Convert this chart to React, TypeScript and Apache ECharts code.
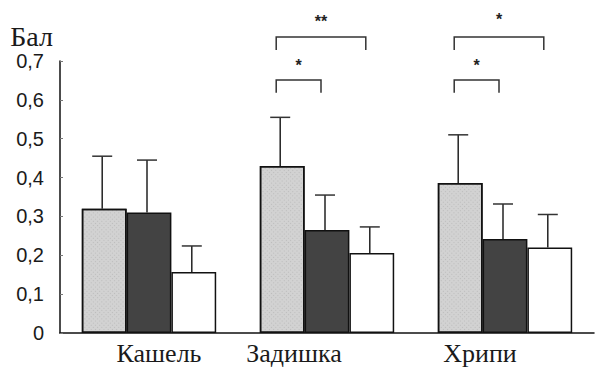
import React, { useEffect, useRef } from "react";
import * as echarts from "echarts";

const categories = ["Кашель", "Задишка", "Хрипи"];
const seriesLight = [0.32, 0.43, 0.386];
const seriesDark = [0.31, 0.265, 0.242];
const seriesWhite = [0.157, 0.206, 0.22];
const errTopLight = [0.455, 0.555, 0.51];
const errTopDark = [0.445, 0.355, 0.332];
const errTopWhite = [0.224, 0.273, 0.305];
const yTickLabels = ["0", "0,1", "0,2", "0,3", "0,4", "0,5", "0,6", "0,7"];
const yAxisTitle = "Бал";
// significance brackets: category, first bar, last bar, top, leg end, star position, label
const brackets = [
  { cat: 1, from: 0, to: 2, top: 0.762, leg: 0.728, labelY: 0.813, label: "**" },
  { cat: 1, from: 0, to: 1, top: 0.651, leg: 0.618, labelY: 0.7, label: "*" },
  { cat: 2, from: 0, to: 2, top: 0.762, leg: 0.728, labelY: 0.816, label: "*" },
  { cat: 2, from: 0, to: 1, top: 0.651, leg: 0.618, labelY: 0.7, label: "*" },
];

const GAP = 0.245;
const SERIF = "Liberation Serif";

export default function App() {
  const ref = useRef<HTMLDivElement>(null);
  useEffect(() => {
    if (!ref.current) return;
    const chart = echarts.init(ref.current, null, { renderer: "svg" });
    const means = [seriesLight, seriesDark, seriesWhite];
    const tops = [errTopLight, errTopDark, errTopWhite];
    const errData: any[] = [];
    const errInfo: any[] = [];
    means.forEach((arr, si) => {
      arr.forEach((m, ci) => {
        errData.push([ci, tops[si][ci]]);
        errInfo.push({ si, ci, mean: m, top: tops[si][ci] });
      });
    });
    const labelShift: Record<string, string> = { "Кашель": "a", "Задишка": "b", "Хрипи": "c" };
    const textColor = "#1a1a1a";
    const option: any = {
      animation: false,
      backgroundColor: "#ffffff",
      grid: { left: 60, right: 1, top: 61, bottom: 36, containLabel: false },
      xAxis: {
        type: "category",
        data: categories,
        axisLine: { lineStyle: { color: "#111", width: 1.5 } },
        axisTick: { show: false },
        axisLabel: {
          margin: 7,
          formatter: (v: string) => `{${labelShift[v]}|${v}}`,
          rich: {
            a: { fontFamily: SERIF, fontSize: 26, color: textColor, padding: [0, 0, 0, 20] },
            b: { fontFamily: SERIF, fontSize: 26, color: textColor, padding: [0, 66, 0, 0] },
            c: { fontFamily: SERIF, fontSize: 26, color: textColor, padding: [0, 50, 0, 0] },
          },
        },
      },
      yAxis: {
        type: "value",
        min: 0,
        max: 0.7,
        interval: 0.1,
        name: yAxisTitle,
        nameLocation: "end",
        nameGap: 11,
        nameTextStyle: {
          fontFamily: SERIF,
          fontSize: 28,
          color: textColor,
          align: "right",
          padding: [0, 7, 0, 0],
        },
        splitLine: { show: false },
        axisLine: { show: true, lineStyle: { color: "#111", width: 1.5 } },
        axisTick: { show: true, inside: true, length: 3, lineStyle: { color: "#777", width: 1 } },
        axisLabel: {
          margin: 16,
          fontFamily: "Liberation Sans",
          fontSize: 20,
          color: textColor,
          formatter: (v: number) => yTickLabels[Math.round(v * 10)] ?? "",
        },
      },
      series: [
        {
          type: "bar",
          data: seriesLight,
          barGap: "0%",
          barCategoryGap: `${GAP * 100}%`,
          itemStyle: {
            color: "#d2d2d2",
            borderColor: "#111",
            borderWidth: 1.5,
            decal: {
              symbol: "rect",
              symbolSize: 0.6,
              color: "rgba(60,60,60,0.5)",
              dashArrayX: [1, 2],
              dashArrayY: [1, 2],
              rotation: Math.PI / 4,
            },
          },
        },
        {
          type: "bar",
          data: seriesDark,
          barGap: "0%",
          barCategoryGap: `${GAP * 100}%`,
          itemStyle: { color: "#434343", borderColor: "#111", borderWidth: 1.5 },
        },
        {
          type: "bar",
          data: seriesWhite,
          barGap: "0%",
          barCategoryGap: `${GAP * 100}%`,
          itemStyle: { color: "#ffffff", borderColor: "#111", borderWidth: 1.5 },
        },
        {
          type: "custom",
          data: errData,
          z: 5,
          renderItem: (params: any, api: any) => {
            const info = errInfo[params.dataIndex];
            const band = api.size([1, 0])[0];
            const bw = (band * (1 - GAP)) / 3;
            const c0 = api.coord([info.ci, info.mean]);
            const c1 = api.coord([info.ci, info.top]);
            const x = c0[0] + (info.si - 1) * bw - 2;
            const cap = 10;
            return {
              type: "group",
              children: [
                { type: "line", shape: { x1: x, y1: c0[1], x2: x, y2: c1[1] }, style: { stroke: "#222", lineWidth: 1.5 } },
                { type: "line", shape: { x1: x - cap, y1: c1[1], x2: x + cap, y2: c1[1] }, style: { stroke: "#333", lineWidth: 1.5 } },
              ],
            };
          },
        },
        {
          type: "custom",
          data: brackets.map((b) => [b.cat, b.top]),
          z: 5,
          clip: false,
          renderItem: (params: any, api: any) => {
            const b = brackets[params.dataIndex];
            const band = api.size([1, 0])[0];
            const bw = (band * (1 - GAP)) / 3;
            const cTop = api.coord([b.cat, b.top]);
            const yLeg = api.coord([b.cat, b.leg])[1];
            const yLab = api.coord([b.cat, b.labelY])[1];
            const x1 = cTop[0] + (b.from - 1) * bw - 6;
            const x2 = cTop[0] + (b.to - 1) * bw - 6;
            return {
              type: "group",
              children: [
                {
                  type: "polyline",
                  shape: { points: [[x1, yLeg], [x1, cTop[1]], [x2, cTop[1]], [x2, yLeg]] },
                  style: { stroke: "#333", lineWidth: 1.5, fill: null },
                },
                {
                  type: "text",
                  x: (x1 + x2) / 2,
                  y: yLab + 4,
                  style: { text: b.label, fontSize: 16, fontWeight: "bold", fontFamily: "Liberation Sans", align: "center", verticalAlign: "middle", fill: "#222" },
                },
              ],
            };
          },
        },
      ],
    };
    chart.setOption(option);
    return () => chart.dispose();
  }, []);
  return <div ref={ref} style={{ width: 595, height: 369, position: "fixed", left: 0, top: 0, background: "#fff" }} />;
}
